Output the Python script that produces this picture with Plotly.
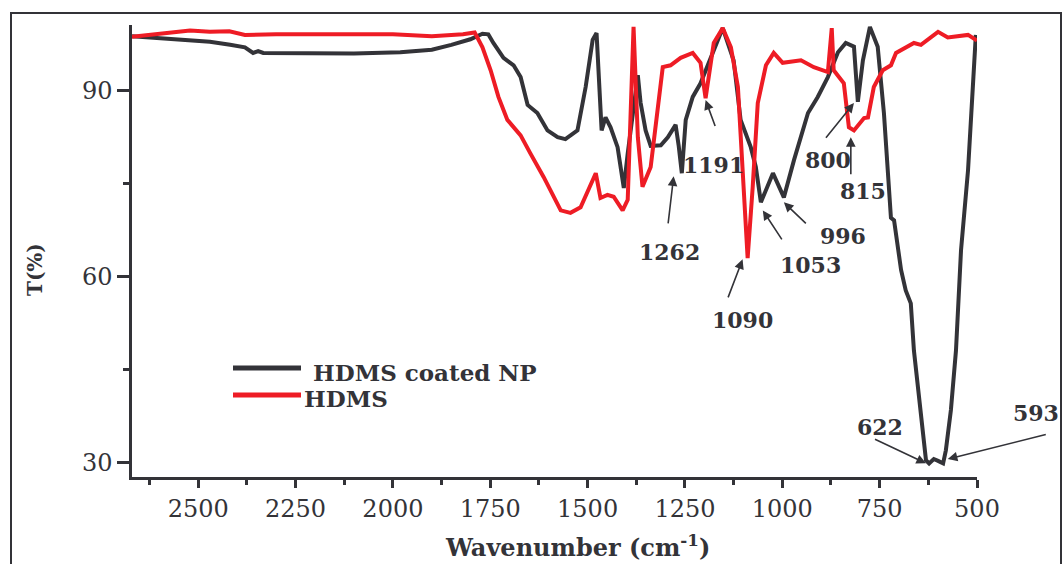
import plotly.graph_objects as go

# ---------------- data ----------------
coated_wn = [2670, 2620, 2521, 2470, 2418, 2380, 2359, 2346, 2333, 2238, 2100, 1981, 1900, 1850,
             1801, 1770, 1755, 1742, 1716, 1690, 1672, 1654, 1629, 1603, 1577, 1557, 1526, 1505,
             1487, 1477, 1469, 1464, 1454, 1441, 1423, 1407, 1397, 1371, 1364, 1351, 1338, 1312,
             1294, 1274, 1266, 1258, 1248, 1230, 1210, 1184, 1153, 1125, 1107, 1081, 1068, 1055,
             1024, 996, 970, 934, 909, 883, 857, 837, 816, 806, 793, 775, 755, 739, 721, 713,
             703, 695, 683, 670, 662, 649, 639, 631, 623, 611, 600, 587, 580, 567, 554, 546,
             541, 523, 503]
coated_T = [98.7, 98.5, 98.1, 97.8, 97.3, 96.9, 96.0, 96.3, 96.0, 95.9, 95.9, 96.1, 96.5, 97.3,
            98.2, 99.1, 99.0, 97.6, 95.2, 94.0, 92.1, 87.6, 86.3, 83.5, 82.4, 82.1, 83.5, 90.5,
            98.1, 99.2, 90.5, 83.5, 85.6, 84.0, 80.8, 74.2, 79.8, 92.4, 88.0, 83.5, 81.0, 81.1,
            82.4, 84.4, 81.0, 76.6, 85.2, 88.9, 91.1, 95.3, 100.0, 94.8, 85.2, 80.8, 77.6, 71.9,
            76.6, 72.7, 78.7, 86.3, 88.9, 92.1, 96.1, 97.6, 97.0, 88.1, 94.8, 100.2, 97.0, 86.3,
            69.4, 69.0, 64.2, 61.0, 57.7, 55.6, 48.0, 40.0, 34.0, 30.3, 29.8, 30.5, 30.2, 29.8,
            31.9, 38.4, 48.0, 58.9, 64.2, 77.1, 98.9]

hdms_wn = [2670, 2521, 2470, 2420, 2380, 2300, 2100, 2000, 1900, 1850, 1820, 1790, 1783, 1770,
           1749, 1729, 1706, 1672, 1647, 1613, 1569, 1544, 1518, 1492, 1479, 1467, 1449, 1433,
           1410, 1397, 1382, 1371, 1359, 1338, 1317, 1307, 1287, 1261, 1230, 1210, 1197, 1176,
           1153, 1132, 1114, 1102, 1089, 1076, 1063, 1042, 1022, 999, 952, 919, 883, 873, 868,
           842, 829, 816, 790, 780, 765, 742, 721, 708, 662, 644, 600, 575, 523, 500]
hdms_T = [98.6, 99.6, 99.4, 99.5, 98.9, 99.0, 99.0, 99.0, 98.7, 98.9, 99.0, 99.3, 98.5, 96.9,
          93.2, 88.9, 85.2, 82.7, 79.8, 76.0, 70.6, 70.2, 71.1, 75.0, 76.6, 72.6, 73.1, 72.8,
          70.6, 72.3, 100.2, 82.4, 74.4, 77.6, 87.9, 93.7, 94.0, 95.2, 96.0, 94.4, 88.7, 97.6,
          100.0, 96.9, 90.5, 77.1, 62.9, 74.4, 87.9, 94.0, 96.0, 94.4, 94.8, 93.7, 92.9, 100.0,
          93.2, 91.1, 84.0, 83.5, 85.5, 85.6, 90.5, 93.2, 94.0, 96.0, 97.6, 97.3, 99.4, 98.5,
          98.9, 98.0]

series_names = ["HDMS coated NP", "HDMS"]
series_colors = ["#333338", "#ee1c25"]

x_ticks = [2500, 2250, 2000, 1750, 1500, 1250, 1000, 750, 500]
y_ticks = [30, 60, 90]

# peak labels: text, arrow head (wn, T), arrow tail offset (px), label position (px)
peak_text = ["1191", "1262", "1090", "1053", "996", "800", "815", "622", "593"]
peak_head_x = [1197, 1279, 1102, 1050, 996, 816, 824, 631, 575]
peak_head_y = [88.4, 76.1, 62.7, 70.6, 71.9, 87.9, 82.4, 29.8, 30.5]
peak_ax = [11, -6, -16, 21, 24, -30, 0, -53, 100]
peak_ay = [30, 51, 42, 32, 23, 37, 41, -25, -25]
label_px = [713, 669, 742, 810, 843, 828, 863, 880, 1036]
label_py = [165, 252, 320, 265, 236, 160, 191, 427, 413]

# ---------------- figure ----------------
ink = "#333338"
serif = "DejaVu Serif"
L, R, T, B, W, H = 132, 86, 25, 87, 1063, 564
pw, ph = W - L - R, H - T - B


def px_to_paper(px, py):
    return (px - L) / pw, (H - B - py) / ph


fig = go.Figure()
fig.add_trace(go.Scatter(x=coated_wn, y=coated_T, mode="lines", name=series_names[0],
                         line=dict(color=series_colors[0], width=4), showlegend=False))
fig.add_trace(go.Scatter(x=hdms_wn, y=hdms_T, mode="lines", name=series_names[1],
                         line=dict(color=series_colors[1], width=4), showlegend=False))

annotations = []
for t, hx, hy, ax, ay in zip(peak_text, peak_head_x, peak_head_y, peak_ax, peak_ay):
    annotations.append(dict(x=hx, y=hy, xref="x", yref="y", text=" ", showarrow=True,
                            ax=ax, ay=ay, arrowhead=2, arrowsize=1.2, arrowwidth=1.6,
                            arrowcolor=ink, standoff=0, font=dict(size=4)))
for t, lx, ly in zip(peak_text, label_px, label_py):
    xp, yp = px_to_paper(lx, ly)
    annotations.append(dict(x=xp, y=yp, xref="paper", yref="paper", text=f"<b>{t}</b>",
                            showarrow=False, font=dict(family=serif, size=22, color=ink),
                            xanchor="center", yanchor="middle"))

# axis titles
xp, yp = px_to_paper(577, 564)
annotations.append(dict(x=xp, y=yp, xref="paper", yref="paper",
                        text="<b>Wavenumber (cm<sup>-1</sup>)</b>", showarrow=False,
                        font=dict(family=serif, size=24, color=ink),
                        xanchor="center", yanchor="bottom"))
xp, yp = px_to_paper(35, 270)
annotations.append(dict(x=xp, y=yp, xref="paper", yref="paper", text="<b>T(%)</b>",
                        textangle=-90, showarrow=False,
                        font=dict(family=serif, size=20, color=ink),
                        xanchor="center", yanchor="middle"))

# legend (manual)
leg_line_py = [368, 395]
leg_text_px = [311, 302]
leg_text_py = [372, 398]
shapes = []
for i in range(2):
    x0, y0 = px_to_paper(233, leg_line_py[i])
    x1, _ = px_to_paper(301, leg_line_py[i])
    shapes.append(dict(type="line", xref="paper", yref="paper", x0=x0, x1=x1,
                       y0=y0, y1=y0, line=dict(color=series_colors[i], width=5)))
    tx, ty = px_to_paper(leg_text_px[i], leg_text_py[i])
    annotations.append(dict(x=tx, y=ty, xref="paper", yref="paper",
                            text=f"<b>{series_names[i]}</b>", showarrow=False,
                            font=dict(family=serif, size=23, color=ink),
                            xanchor="left", yanchor="middle"))

# outer frame
fx0, fy1 = px_to_paper(11, 13)
fx1, fy0 = px_to_paper(1061, 600)
shapes.append(dict(type="rect", xref="paper", yref="paper", x0=fx0, x1=fx1,
                   y0=fy0, y1=fy1, line=dict(color=ink, width=2)))

fig.update_layout(
    width=W, height=H,
    margin=dict(l=L, r=R, t=T, b=B),
    paper_bgcolor="white", plot_bgcolor="white",
    showlegend=False,
    annotations=annotations, shapes=shapes,
    xaxis=dict(range=[2670, 500], tickvals=x_ticks, ticks="outside", ticklen=8, tickwidth=2.5,
               tickcolor=ink, showline=True, linecolor=ink, linewidth=2.5, showgrid=False,
               zeroline=False, tickfont=dict(family=serif, size=24, color=ink),
               minor=dict(dtick=125, tick0=500, ticks="outside", ticklen=5, tickwidth=2.5,
                          tickcolor=ink, showgrid=False)),
    yaxis=dict(range=[27.6, 100.5], tickvals=y_ticks, ticks="outside", ticklen=12, tickwidth=2.5,
               tickcolor=ink, showline=True, linecolor=ink, linewidth=2.5, showgrid=False,
               zeroline=False, tickfont=dict(family=serif, size=24, color=ink),
               minor=dict(dtick=15, tick0=30, ticks="outside", ticklen=6, tickwidth=2.5,
                          tickcolor=ink, showgrid=False)),
)

fig.write_html("out.html")
